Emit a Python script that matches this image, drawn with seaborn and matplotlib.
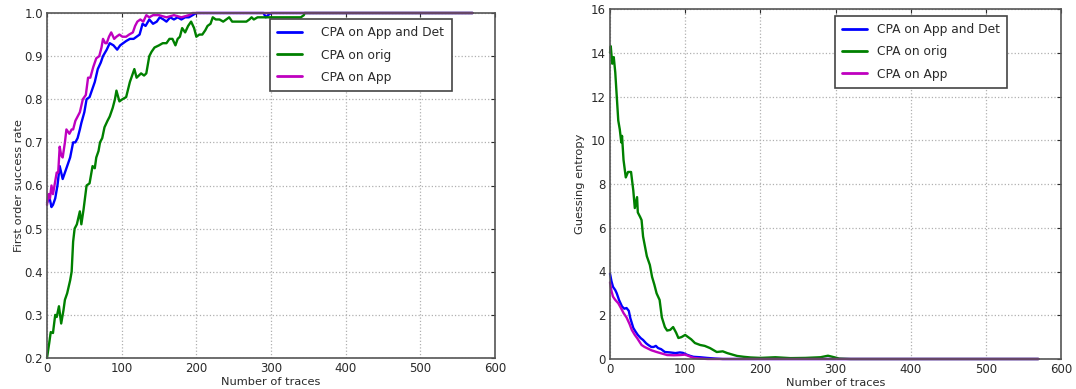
import numpy as np
import pandas as pd
import matplotlib
matplotlib.use("Agg")
import matplotlib.pyplot as plt
import seaborn as sns

# ---- success rate (left panel) ----
sr_det_n = [0, 3, 6, 8, 11, 14, 17, 21, 24, 28, 31, 35, 38, 41, 44, 46, 50, 53, 57, 60,
            64, 68, 72, 75, 80, 84, 89, 94, 98, 102, 106, 111, 116, 120, 124, 128, 132, 137, 142, 147,
            151, 156, 160, 165, 170, 175, 180, 185, 190, 195, 200, 250, 290, 293, 296, 300, 570]
sr_det = [0.56, 0.575, 0.55, 0.555, 0.57, 0.60, 0.645, 0.615, 0.63, 0.65, 0.665, 0.70, 0.70, 0.71, 0.73, 0.745, 0.77, 0.80, 0.805, 0.82,
          0.84, 0.87, 0.885, 0.90, 0.915, 0.93, 0.925, 0.915, 0.925, 0.93, 0.935, 0.94, 0.94, 0.945, 0.95, 0.975, 0.97, 0.985, 0.975, 0.98,
          0.99, 0.985, 0.98, 0.99, 0.985, 0.99, 0.985, 0.99, 0.99, 0.995, 1.0, 1.0, 1.0, 0.99, 0.995, 1.0, 1.0]

sr_orig_n = [0, 3, 5, 8, 11, 13, 16, 19, 22, 24, 27, 31, 33, 35, 37, 40, 44, 46, 49, 53,
             57, 61, 64, 66, 69, 71, 74, 77, 81, 84, 88, 91, 93, 97, 101, 106, 111, 114, 117, 120,
             123, 126, 130, 133, 137, 140, 144, 150, 155, 160, 164, 168, 172, 175, 178, 181, 185, 189, 193, 197,
             200, 204, 208, 212, 215, 219, 222, 226, 231, 236, 240, 244, 248, 252, 260, 267, 271, 274, 277, 282,
             290, 300, 320, 340, 344, 345, 570]
sr_orig = [0.20, 0.235, 0.26, 0.258, 0.30, 0.295, 0.32, 0.28, 0.31, 0.335, 0.35, 0.38, 0.40, 0.47, 0.50, 0.51, 0.54, 0.51, 0.545, 0.60,
           0.605, 0.645, 0.64, 0.665, 0.68, 0.70, 0.71, 0.735, 0.75, 0.76, 0.78, 0.80, 0.82, 0.795, 0.80, 0.805, 0.84, 0.855, 0.87, 0.85,
           0.855, 0.86, 0.855, 0.86, 0.90, 0.91, 0.92, 0.925, 0.93, 0.93, 0.94, 0.94, 0.925, 0.94, 0.945, 0.965, 0.955, 0.97, 0.98, 0.965,
           0.945, 0.95, 0.95, 0.96, 0.97, 0.975, 0.99, 0.985, 0.985, 0.98, 0.985, 0.99, 0.98, 0.98, 0.98, 0.98, 0.985, 0.99, 0.985, 0.99,
           0.99, 0.99, 0.99, 0.99, 0.995, 1.0, 1.0]

sr_app_n = [0, 2, 4, 6, 8, 10, 13, 15, 17, 19, 21, 24, 26, 30, 33, 35, 38, 41, 44, 48,
            52, 55, 58, 62, 66, 70, 73, 75, 78, 80, 83, 86, 90, 93, 97, 101, 106, 110, 115, 118,
            121, 125, 129, 133, 137, 142, 150, 160, 170, 180, 190, 195, 570]
sr_app = [0.555, 0.58, 0.57, 0.60, 0.58, 0.60, 0.63, 0.63, 0.69, 0.67, 0.665, 0.70, 0.73, 0.72, 0.73, 0.73, 0.75, 0.76, 0.77, 0.80,
          0.81, 0.85, 0.85, 0.875, 0.895, 0.90, 0.92, 0.94, 0.93, 0.93, 0.945, 0.955, 0.94, 0.945, 0.95, 0.945, 0.945, 0.95, 0.955, 0.97,
          0.98, 0.985, 0.98, 0.995, 0.99, 0.995, 0.995, 0.99, 0.995, 0.99, 0.995, 1.0, 1.0]

# ---- guessing entropy (right panel) ----
ge_det_n = [0, 2, 4, 7, 9, 12, 16, 19, 22, 25, 27, 31, 34, 37, 41, 44, 48, 51, 55, 58,
            61, 64, 68, 73, 80, 87, 93, 97, 102, 106, 111, 120, 129, 140, 150, 570]
ge_det = [3.9, 3.55, 3.3, 3.15, 3.0, 2.7, 2.4, 2.3, 2.33, 2.2, 1.87, 1.42, 1.25, 1.1, 0.95, 0.87, 0.72, 0.64, 0.55, 0.55,
          0.6, 0.5, 0.45, 0.32, 0.3, 0.27, 0.3, 0.28, 0.2, 0.15, 0.1, 0.08, 0.05, 0.02, 0.0, 0.0]

ge_orig_n = [0, 1, 3, 5, 7, 9, 11, 13, 15, 16, 18, 21, 24, 28, 31, 33, 36, 37, 40, 42,
             44, 49, 53, 56, 59, 62, 66, 69, 73, 76, 80, 84, 88, 91, 95, 100, 104, 108, 113, 120,
             126, 133, 142, 150, 156, 163, 169, 178, 187, 200, 220, 240, 260, 280, 290, 296, 305, 320, 570]
ge_orig = [14.0, 14.3, 13.5, 13.8, 13.1, 12.0, 10.9, 10.5, 9.9, 10.2, 9.1, 8.3, 8.55, 8.55, 7.7, 6.9, 7.4, 6.7, 6.5, 6.35,
           5.6, 4.7, 4.3, 3.75, 3.4, 3.0, 2.7, 1.9, 1.46, 1.3, 1.33, 1.46, 1.2, 0.96, 1.0, 1.1, 1.0, 0.9, 0.73, 0.64,
           0.6, 0.5, 0.32, 0.35, 0.27, 0.2, 0.14, 0.1, 0.07, 0.05, 0.08, 0.04, 0.05, 0.08, 0.15, 0.1, 0.02, 0.0, 0.0]

ge_app_n = [0, 2, 4, 7, 11, 15, 18, 22, 26, 29, 33, 36, 39, 42, 46, 49, 55, 62, 69, 76,
            85, 93, 100, 106, 111, 120, 130, 570]
ge_app = [3.5, 3.1, 2.85, 2.7, 2.55, 2.3, 2.1, 1.9, 1.6, 1.33, 1.1, 0.96, 0.8, 0.64, 0.55, 0.5, 0.4, 0.32, 0.25, 0.18,
          0.17, 0.18, 0.2, 0.12, 0.05, 0.02, 0.0, 0.0]

labels = ["CPA on App and Det", "CPA on orig", "CPA on App"]
colors = ["#0000ff", "#008000", "#bf00bf"]

sns.set_style("whitegrid")
plt.rcParams["font.family"] = ["DejaVu Sans"]
text_c = "#2a2a2a"

fig = plt.figure(figsize=(10.76, 3.89), dpi=100)
ax1 = fig.add_axes([47 / 1076, 31 / 389, 448 / 1076, 345 / 389])
ax2 = fig.add_axes([610 / 1076, 30 / 389, 451 / 1076, 350 / 389])


def draw(ax, series, ylim, yticks, ylabel, ypad):
    for (xs, ys), lab, col in zip(series, labels, colors):
        df = pd.DataFrame({"n": xs, "v": ys})
        sns.lineplot(data=df, x="n", y="v", ax=ax, color=col, lw=1.7,
                     label=lab, estimator=None, sort=False, clip_on=False, zorder=3)
    ax.set_xlim(0, 600)
    ax.set_ylim(*ylim)
    ax.set_xticks(range(0, 601, 100))
    ax.set_yticks(yticks)
    ax.grid(True, color="#b0b0b0", linestyle=":", linewidth=0.9)
    ax.set_facecolor("white")
    for s in ax.spines.values():
        s.set_color("#555555")
        s.set_linewidth(1.2)
        s.set_zorder(4)
    ax.tick_params(axis="both", labelsize=8.5, colors=text_c, direction="in",
                   length=3, top=True, right=True, pad=3)
    ax.set_xlabel("Number of traces", fontsize=8.2, color=text_c, labelpad=1)
    ax.set_ylabel(ylabel, fontsize=8.2, color=text_c, labelpad=ypad)


draw(ax1, [(sr_det_n, sr_det), (sr_orig_n, sr_orig), (sr_app_n, sr_app)],
     (0.2, 1.0), np.round(np.arange(0.2, 1.01, 0.1), 1), "First order success rate", 0.5)
ax1.set_yticklabels([f"{v:.1f}" for v in np.arange(0.2, 1.01, 0.1)])
draw(ax2, [(ge_det_n, ge_det), (ge_orig_n, ge_orig), (ge_app_n, ge_app)],
     (0, 16), range(0, 17, 2), "Guessing entropy", 4)

leg1 = ax1.legend(loc="upper left", bbox_to_anchor=(270 / 1076, 1 - 19 / 389),
                  bbox_transform=fig.transFigure, fontsize=8.8, frameon=True,
                  fancybox=False, framealpha=1, edgecolor="#444444",
                  handlelength=2.0, handletextpad=1.6, labelspacing=0.75,
                  borderpad=0.6, borderaxespad=0)
leg2 = ax2.legend(loc="upper left", bbox_to_anchor=(835 / 1076, 1 - 16 / 389),
                  bbox_transform=fig.transFigure, fontsize=8.8, frameon=True,
                  fancybox=False, framealpha=1, edgecolor="#444444",
                  handlelength=2.0, handletextpad=0.8, labelspacing=0.75,
                  borderpad=0.6, borderaxespad=0)
for leg in (leg1, leg2):
    leg.get_frame().set_linewidth(1.2)
    leg.set_zorder(5)
    for t in leg.get_texts():
        t.set_color(text_c)
    for h in leg.get_lines():
        h.set_linewidth(2.0)

fig.savefig("out.png", dpi=100, facecolor="white")
